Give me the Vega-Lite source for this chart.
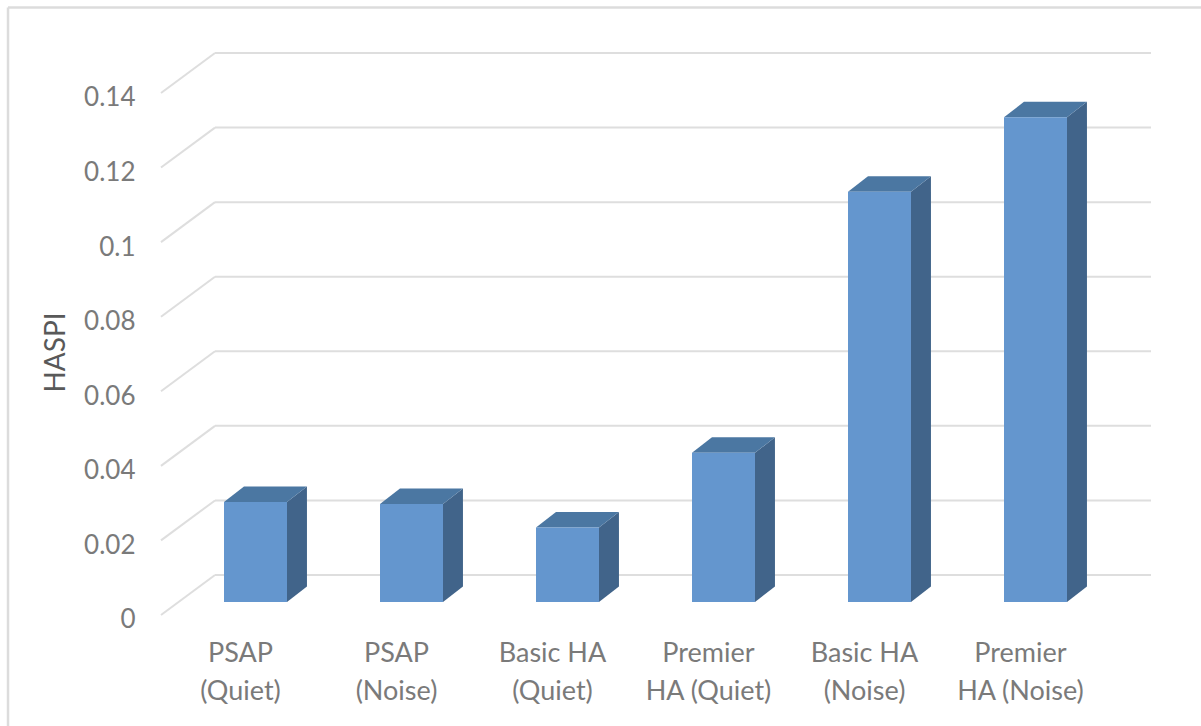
{
  "$schema": "https://vega.github.io/schema/vega-lite/v6.json",
  "width": 990,
  "height": 562,
  "autosize": "none",
  "padding": {"left": 161, "top": 53, "right": 50, "bottom": 111},
  "background": "#ffffff",
  "config": {"view": {"stroke": null}, "font": "Lato"},
  "datasets": {
    "scores": [
      {"slot": 0, "label": "PSAP\n(Quiet)", "haspi": 0.0268},
      {"slot": 1, "label": "PSAP\n(Noise)", "haspi": 0.0263},
      {"slot": 2, "label": "Basic HA\n(Quiet)", "haspi": 0.02},
      {"slot": 3, "label": "Premier\nHA (Quiet)", "haspi": 0.04},
      {"slot": 4, "label": "Basic HA\n(Noise)", "haspi": 0.11},
      {"slot": 5, "label": "Premier\nHA (Noise)", "haspi": 0.13}
    ],
    "ticks": [
      {"tick": 0}, {"tick": 0.02}, {"tick": 0.04}, {"tick": 0.06},
      {"tick": 0.08}, {"tick": 0.1}, {"tick": 0.12}, {"tick": 0.14}
    ],
    "frame": [
      {"x0": -1.0865, "x1": 6.561, "y0": 0.15944, "y1": 0.15944},
      {"x0": -1.0865, "x1": -1.0865, "y0": 0.15944, "y1": -0.03326}
    ]
  },
  "layer": [
    {
      "description": "Outer chart border along the top and left, also carrying the value axis",
      "data": {"name": "frame"},
      "mark": {"type": "rule", "color": "#dcdcdc", "strokeWidth": 2.5},
      "encoding": {
        "x": {"field": "x0", "type": "quantitative", "axis": null, "scale": {"domain": [-0.10577, 6.2404], "nice": false, "zero": false}},
        "x2": {"field": "x1"},
        "y": {"field": "y0", "type": "quantitative", "scale": {"domain": [-0.003487, 0.14724], "nice": false, "zero": false},
          "axis": {
            "values": [0, 0.02, 0.04, 0.06, 0.08, 0.1, 0.12, 0.14],
            "format": "~g", "grid": false, "domain": false, "ticks": false,
            "labelFontSize": 26, "labelColor": "#7a7a7a", "labelPadding": 26, "labelOffset": 18,
            "title": "HASPI", "titleFontSize": 28, "titleFontWeight": "normal", "titleColor": "#595959",
            "titleX": -91, "titleY": 299, "titleAngle": -90
          }
        },
        "y2": {"field": "y1"}
      }
    },
    {
      "description": "Side wall grid strokes running from the front edge to the back wall",
      "data": {"name": "ticks"},
      "transform": [
        {"calculate": "datum.tick - 0.003487", "as": "front"},
        {"calculate": "datum.tick + 0.00724", "as": "back"},
        {"calculate": "-0.10577", "as": "xFront"},
        {"calculate": "0.2404", "as": "xBack"}
      ],
      "mark": {"type": "rule", "color": "#dedede", "strokeWidth": 2},
      "encoding": {
        "x": {"field": "xFront", "type": "quantitative", "axis": null, "scale": {"domain": [-0.10577, 6.2404], "nice": false, "zero": false}},
        "x2": {"field": "xBack"},
        "y": {"field": "front", "type": "quantitative", "scale": {"domain": [-0.003487, 0.14724], "nice": false, "zero": false}},
        "y2": {"field": "back"}
      }
    },
    {
      "description": "Back wall grid lines",
      "data": {"name": "ticks"},
      "transform": [
        {"calculate": "datum.tick + 0.00724", "as": "back"},
        {"calculate": "0.2404", "as": "xBack"},
        {"calculate": "6.2404", "as": "xEnd"}
      ],
      "mark": {"type": "rule", "color": "#dedede", "strokeWidth": 2},
      "encoding": {
        "x": {"field": "xBack", "type": "quantitative", "axis": null, "scale": {"domain": [-0.10577, 6.2404], "nice": false, "zero": false}},
        "x2": {"field": "xEnd"},
        "y": {"field": "back", "type": "quantitative", "scale": {"domain": [-0.003487, 0.14724], "nice": false, "zero": false}}
      }
    },
    {
      "description": "Right side of each column",
      "data": {"name": "scores"},
      "transform": [
        {"calculate": "[0, 1]", "as": "depth"},
        {"flatten": ["depth"]},
        {"calculate": "datum.slot + 0.7019 + datum.depth * 0.128", "as": "sx"},
        {"calculate": "datum.depth * 0.004157", "as": "sBase"},
        {"calculate": "datum.haspi + datum.depth * 0.004157", "as": "sTop"}
      ],
      "mark": {"type": "area", "color": "#41648a", "opacity": 1},
      "encoding": {
        "detail": {"field": "label"},
        "x": {"field": "sx", "type": "quantitative", "axis": null, "scale": {"domain": [-0.10577, 6.2404], "nice": false, "zero": false}},
        "y": {"field": "sTop", "type": "quantitative", "stack": null, "scale": {"domain": [-0.003487, 0.14724], "nice": false, "zero": false}},
        "y2": {"field": "sBase"}
      }
    },
    {
      "description": "Top of each column",
      "data": {"name": "scores"},
      "transform": [
        {"calculate": "[datum.slot + 0.2981, datum.slot + 0.4261, datum.slot + 0.7019, datum.slot + 0.8299]", "as": "tx"},
        {"calculate": "[datum.haspi, datum.haspi, datum.haspi, datum.haspi + 0.004157]", "as": "tLow"},
        {"calculate": "[datum.haspi, datum.haspi + 0.004157, datum.haspi + 0.004157, datum.haspi + 0.004157]", "as": "tHigh"},
        {"flatten": ["tx", "tLow", "tHigh"]}
      ],
      "mark": {"type": "area", "color": "#4b77a2", "opacity": 1},
      "encoding": {
        "detail": {"field": "label"},
        "x": {"field": "tx", "type": "quantitative", "axis": null, "scale": {"domain": [-0.10577, 6.2404], "nice": false, "zero": false}},
        "y": {"field": "tHigh", "type": "quantitative", "stack": null, "scale": {"domain": [-0.003487, 0.14724], "nice": false, "zero": false}},
        "y2": {"field": "tLow"}
      }
    },
    {
      "description": "Front face of each column",
      "data": {"name": "scores"},
      "transform": [
        {"calculate": "datum.slot + 0.2981", "as": "left"},
        {"calculate": "datum.slot + 0.7019", "as": "right"},
        {"calculate": "0", "as": "base"}
      ],
      "mark": {"type": "rect", "color": "#6496ce"},
      "encoding": {
        "x": {"field": "left", "type": "quantitative", "axis": null, "scale": {"domain": [-0.10577, 6.2404], "nice": false, "zero": false}},
        "x2": {"field": "right"},
        "y": {"field": "haspi", "type": "quantitative", "scale": {"domain": [-0.003487, 0.14724], "nice": false, "zero": false}},
        "y2": {"field": "base"}
      }
    },
    {
      "description": "Two-line category names under the columns",
      "data": {"name": "scores"},
      "transform": [
        {"calculate": "datum.slot + 0.5", "as": "center"},
        {"calculate": "-0.003487", "as": "floor"}
      ],
      "mark": {"type": "text", "baseline": "top", "align": "center", "lineBreak": "\n", "lineHeight": 38, "fontSize": 27, "color": "#7a7a7a", "dx": -15, "dy": 26},
      "encoding": {
        "text": {"field": "label"},
        "x": {"field": "center", "type": "quantitative", "axis": null, "scale": {"domain": [-0.10577, 6.2404], "nice": false, "zero": false}},
        "y": {"field": "floor", "type": "quantitative", "scale": {"domain": [-0.003487, 0.14724], "nice": false, "zero": false}}
      }
    }
  ]
}
